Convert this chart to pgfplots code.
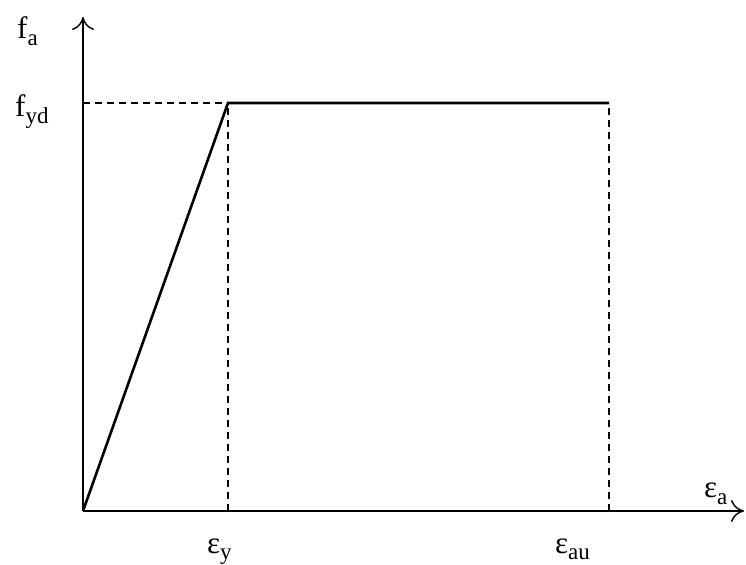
\documentclass[border=0pt]{standalone}
\usepackage{fontspec}
\setmainfont{Liberation Serif}
\usepackage{pgfplots}
\pgfplotsset{compat=1.18}
\usetikzlibrary{arrows.meta}
\newcommand{\lbl}[2]{{\fontsize{31}{34}\selectfont #1\raisebox{-0.22em}{\fontsize{23}{25}\selectfont #2}}}
\begin{document}
\begin{tikzpicture}
\begin{axis}[
  x=1pt, y=1pt,
  xmin=0, xmax=661, ymin=0, ymax=494,
  axis lines=left,
  axis line style={line width=1.4pt, -{To[length=13pt,width=22pt,line width=1.4pt]}},
  ticks=none,
  clip=false,
]
\path (axis cs:-83,-50) rectangle (axis cs:663,511);
\addplot[black, line width=2.6pt, line join=miter] coordinates {(0,0) (145,408) (526,408)};
\addplot[black, line width=1.1pt, dash pattern=on 7pt off 5pt] coordinates {(0,408) (145,408)};
\addplot[black, line width=1.1pt, dash pattern=on 7pt off 5pt] coordinates {(145,0) (145,408)};
\addplot[black, line width=1.1pt, dash pattern=on 7pt off 5pt] coordinates {(526,0) (526,408)};
\node[anchor=base west, inner sep=0pt] at (axis cs:-66,472) {\lbl{f}{a}};
\node[anchor=base west, inner sep=0pt] at (axis cs:-68,394) {\lbl{f}{yd}};
\node[anchor=base west, inner sep=0pt] at (axis cs:124,-42) {\lbl{ε}{y}};
\node[anchor=base west, inner sep=0pt] at (axis cs:472,-42) {\lbl{ε}{au}};
\node[anchor=base west, inner sep=0pt] at (axis cs:621,13) {\lbl{ε}{a}};
\end{axis}
\end{tikzpicture}
\end{document}
